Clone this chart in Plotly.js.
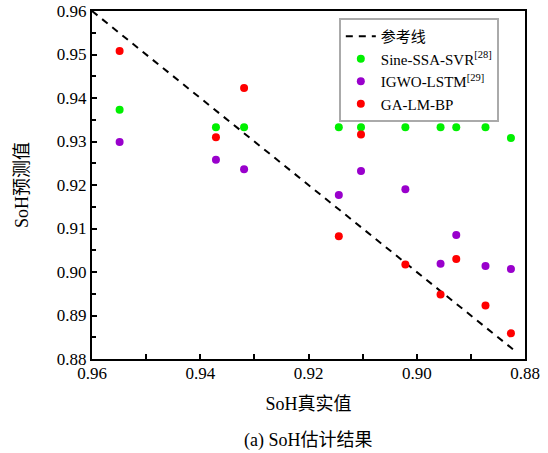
<!DOCTYPE html>
<html>
<head>
<meta charset="utf-8">
<script src="https://cdn.plot.ly/plotly-3.0.1.min.js"></script>
<style>html,body{margin:0;padding:0;background:#fff;}#chart{width:548px;height:453px;}</style>
</head>
<body>
<div id="chart"></div>
<script>
// Data
const trueSoH = [0.9549, 0.9371, 0.9319, 0.9144, 0.9103, 0.9021, 0.8956, 0.8927, 0.8873, 0.8826];
const sineSsaSvr = [0.9373, 0.9333, 0.9333, 0.9333, 0.9333, 0.9333, 0.9333, 0.9333, 0.9333, 0.9308];
const igwoLstm = [0.9299, 0.9258, 0.9236, 0.9177, 0.9232, 0.9190, 0.9019, 0.9085, 0.9014, 0.9007];
const gaLmBp = [0.9508, 0.9310, 0.9423, 0.9082, 0.9316, 0.9017, 0.8948, 0.9030, 0.8923, 0.8859];
const refX = [0.96, 0.882];
const refY = [0.96, 0.882];
const seriesNames = ['参考线', 'Sine-SSA-SVR<sup>[28]</sup>', 'IGWO-LSTM<sup>[29]</sup>', 'GA-LM-BP'];
const xTitle = 'SoH真实值';
const yTitle = 'SoH预测值';
const caption = '(a) SoH估计结果';

const FONT = 'Liberation Serif, "Times New Roman", "Noto Sans CJK SC", serif';

const traces = [
  {x: refX, y: refY, name: seriesNames[0], mode: 'lines', type: 'scatter',
   line: {color: '#000', width: 2, dash: '7px,6px'}},
  {x: trueSoH, y: sineSsaSvr, name: seriesNames[1], mode: 'markers', type: 'scatter',
   marker: {color: '#00f000', size: 8}},
  {x: trueSoH, y: igwoLstm, name: seriesNames[2], mode: 'markers', type: 'scatter',
   marker: {color: '#9900cc', size: 8}},
  {x: trueSoH, y: gaLmBp, name: seriesNames[3], mode: 'markers', type: 'scatter',
   marker: {color: '#ff0000', size: 8}}
];

const layout = {
  width: 548, height: 453,
  margin: {l: 92, r: 23, t: 11, b: 94},
  paper_bgcolor: '#fff', plot_bgcolor: '#fff',
  font: {family: FONT, size: 17, color: '#000'},
  showlegend: true,
  legend: {x: 0.57, y: 0.98, xanchor: 'left', yanchor: 'top',
           bgcolor: '#fff', bordercolor: '#aaaaaa', borderwidth: 2,
           entrywidth: 156, entrywidthmode: 'pixels',
           font: {family: FONT, size: 15, color: '#000'}},
  xaxis: {
    range: [0.96, 0.88], dtick: 0.02, tick0: 0.88, tickformat: '.2f',
    ticks: 'inside', ticklen: 5, tickwidth: 2, tickcolor: '#000',
    minor: {dtick: 0.01, ticks: 'inside', ticklen: 5, tickwidth: 2, tickcolor: '#000'},
    showline: true, linecolor: '#000', linewidth: 2, mirror: true,
    showgrid: false, zeroline: false,
    ticklabelstandoff: -2,
    tickfont: {family: FONT, size: 17},
    title: {text: xTitle, font: {family: FONT, size: 18}, standoff: 15}
  },
  yaxis: {
    range: [0.88, 0.96], dtick: 0.01, tick0: 0.88, tickformat: '.2f',
    ticks: 'inside', ticklen: 5, tickwidth: 2, tickcolor: '#000',
    minor: {dtick: 0.005, ticks: 'inside', ticklen: 4, tickwidth: 2, tickcolor: '#000'},
    showline: true, linecolor: '#000', linewidth: 2, mirror: true,
    showgrid: false, zeroline: false,
    tickfont: {family: FONT, size: 17},
    title: {text: yTitle, font: {family: FONT, size: 18}, standoff: 24}
  },
  annotations: [{
    text: caption, xref: 'paper', yref: 'paper', x: 0.5, y: -0.233,
    xanchor: 'center', yanchor: 'middle', showarrow: false,
    font: {family: FONT, size: 18, color: '#000'}
  }]
};

Plotly.newPlot('chart', traces, layout, {displayModeBar: false, staticPlot: true});
</script>
</body>
</html>
